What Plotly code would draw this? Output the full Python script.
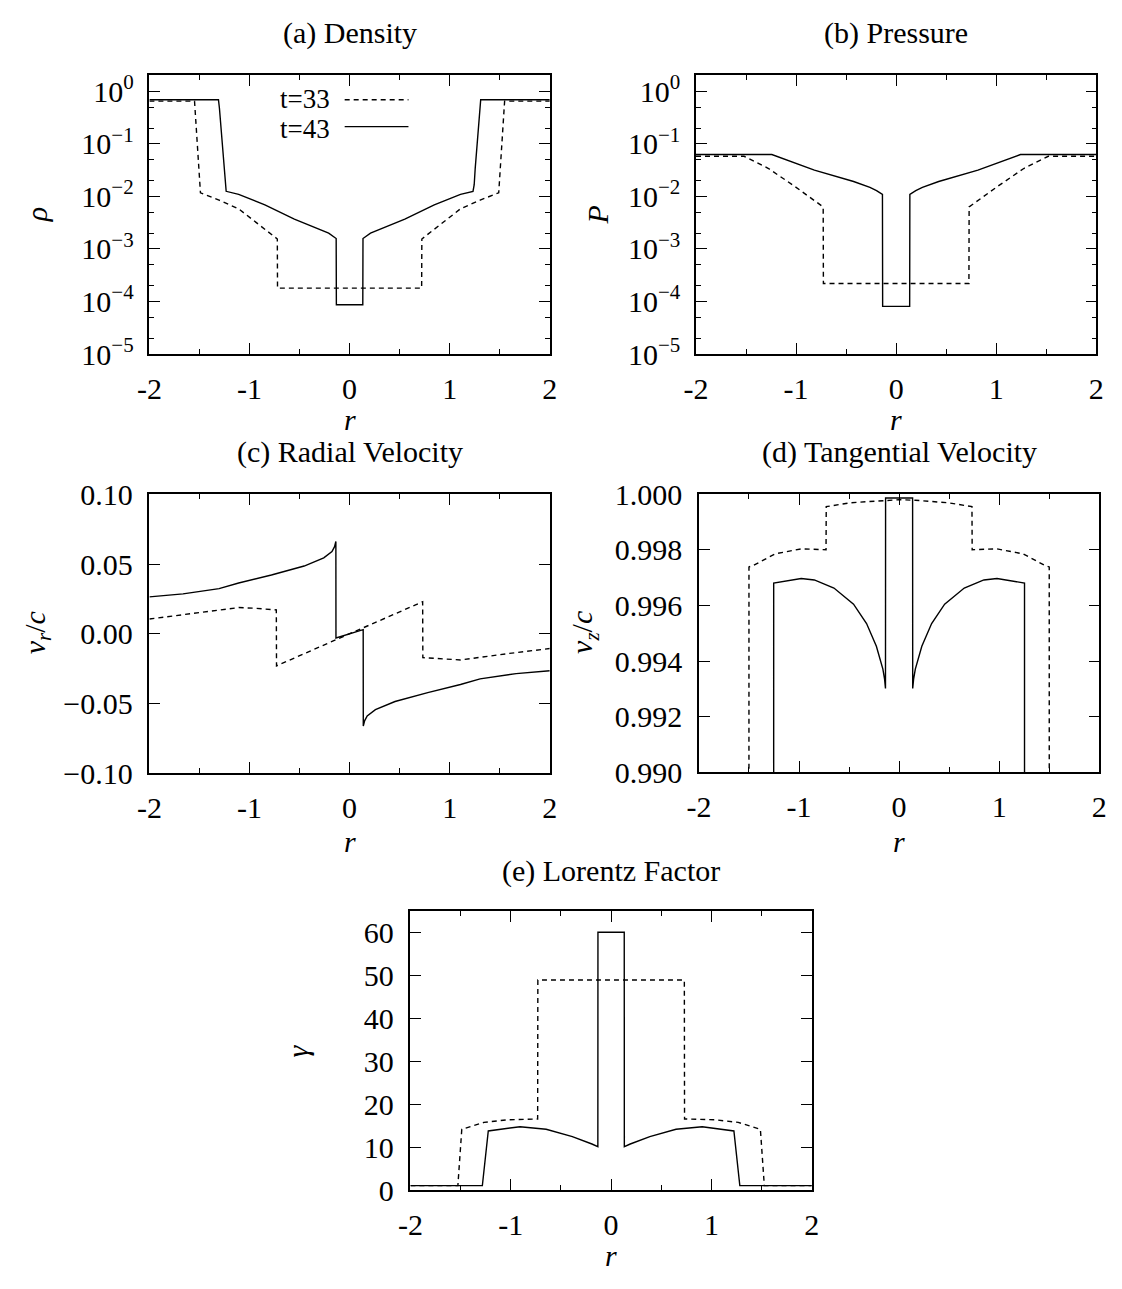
import plotly.graph_objects as go

# ---------------- data ----------------
# (a) density, t=33 (dashed) and t=43 (solid)
r_rho_33 = [-2.0, -1.549, -1.49, -1.304, -1.108, -0.912, -0.722, -0.720,
            0.720, 0.722, 0.912, 1.108, 1.304, 1.49, 1.549, 2.0]
rho_33 = [0.65, 0.65, 0.0117, 0.0085, 0.0058, 0.0030, 0.00155, 1.8e-4,
          1.8e-4, 0.00155, 0.0030, 0.0058, 0.0085, 0.0117, 0.65, 0.65]
r_rho_43 = [-2.0, -1.31, -1.30, -1.255, -1.245, -1.233, -1.108, -0.846, -0.552,
            -0.291, -0.209, -0.134, -0.132, 0.132, 0.134, 0.209, 0.291, 0.552,
            0.846, 1.108, 1.233, 1.245, 1.255, 1.30, 1.31, 2.0]
rho_43 = [0.69, 0.69, 0.47, 0.034, 0.0167, 0.0125, 0.0109, 0.0069, 0.0037,
          0.0023, 0.0020, 0.00158, 8.7e-5, 8.7e-5, 0.00158, 0.0020, 0.0023,
          0.0037, 0.0069, 0.0109, 0.0125, 0.0167, 0.034, 0.47, 0.69, 0.69]

# (b) pressure
r_p_33 = [-2.0, -1.52, -1.275, -1.013, -0.729, -0.727,
          0.727, 0.729, 1.013, 1.275, 1.52, 2.0]
p_33 = [0.058, 0.058, 0.0339, 0.0155, 0.0063, 2.2e-4,
        2.2e-4, 0.0063, 0.0155, 0.0339, 0.058, 0.058]
r_p_43 = [-2.0, -1.242, -0.817, -0.425, -0.262, -0.196, -0.137, -0.135,
          0.135, 0.137, 0.196, 0.262, 0.425, 0.817, 1.242, 2.0]
p_43 = [0.0625, 0.0625, 0.0316, 0.0192, 0.0148, 0.0129, 0.0109, 8.1e-5,
        8.1e-5, 0.0109, 0.0129, 0.0148, 0.0192, 0.0316, 0.0625, 0.0625]

# (c) radial velocity
r_vr_33 = [-2.0, -1.598, -1.108, -0.944, -0.732, -0.730,
           0.730, 0.732, 0.944, 1.108, 1.598, 2.0]
vr_33 = [0.0106, 0.0141, 0.0188, 0.0183, 0.0171, -0.023,
         0.023, -0.0171, -0.0183, -0.0188, -0.0141, -0.0106]
r_vr_43 = [-2.0, -1.664, -1.304, -1.108, -0.781, -0.454, -0.258, -0.176,
           -0.15, -0.137, -0.136, 0.136, 0.137, 0.15, 0.176, 0.258, 0.454,
           0.781, 1.108, 1.304, 1.664, 2.0]
vr_43 = [0.0265, 0.0286, 0.0324, 0.0364, 0.0422, 0.0486, 0.0545, 0.059,
         0.0625, 0.0662, -0.0030, 0.0030, -0.0662, -0.0625, -0.059, -0.0545,
         -0.0486, -0.0422, -0.0364, -0.0324, -0.0286, -0.0265]

# (d) tangential velocity
r_vz_33 = [-2.0, -1.53, -1.50, -1.452, -1.239, -0.978, -0.730, -0.728,
           -0.489, -0.162, 0.0, 0.162, 0.489, 0.728, 0.730, 0.978, 1.239,
           1.452, 1.50, 1.53, 2.0]
vz_33 = [0.0, 0.0, 0.99739, 0.99745, 0.99786, 0.99804, 0.99801, 0.99956,
         0.99970, 0.99979, 0.99981, 0.99979, 0.99970, 0.99956, 0.99801,
         0.99804, 0.99786, 0.99745, 0.99739, 0.0, 0.0]
r_vz_43 = [-2.0, -1.26, -1.253, -1.207, -0.978, -0.847, -0.651, -0.455,
           -0.325, -0.227, -0.162, -0.145, -0.136, -0.135, 0.135, 0.136,
           0.145, 0.162, 0.227, 0.325, 0.455, 0.651, 0.847, 0.978, 1.207,
           1.253, 1.26, 2.0]
vz_43 = [0.0, 0.0, 0.99681, 0.99684, 0.99697, 0.99692, 0.99663, 0.99605,
         0.99535, 0.99453, 0.99371, 0.99335, 0.99301, 0.99987, 0.99987,
         0.99301, 0.99335, 0.99371, 0.99453, 0.99535, 0.99605, 0.99663,
         0.99692, 0.99697, 0.99684, 0.99681, 0.0, 0.0]

# (e) Lorentz factor
r_g_33 = [-2.0, -1.527, -1.488, -1.267, -1.039, -0.732, -0.730,
          0.730, 0.732, 1.039, 1.267, 1.488, 1.527, 2.0]
g_33 = [1.06, 1.06, 14.2, 15.8, 16.4, 16.6, 49.0,
        49.0, 16.6, 16.4, 15.8, 14.2, 1.06, 1.06]
r_g_43 = [-2.0, -1.283, -1.224, -0.908, -0.647, -0.386, -0.191, -0.132,
          -0.131, 0.131, 0.132, 0.191, 0.386, 0.647, 0.908, 1.224, 1.283, 2.0]
g_43 = [1.06, 1.06, 13.8, 14.8, 14.2, 12.5, 10.76, 10.15,
        60.15, 60.15, 10.15, 10.76, 12.5, 14.2, 14.8, 13.8, 1.06, 1.06]

# tick labels
x_tickvals = [-2, -1, 0, 1, 2]
x_ticktext = ["-2", "-1", "0", "1", "2"]
x_minor = [-1.5, -0.5, 0.5, 1.5]
log_tickvals = [1e-5, 1e-4, 1e-3, 1e-2, 1e-1, 1e0]
log_ticktext = ["10<sup>\u22125</sup>", "10<sup>\u22124</sup>", "10<sup>\u22123</sup>",
                "10<sup>\u22122</sup>", "10<sup>\u22121</sup>", "10<sup>0</sup>"]
log_minor = [m * 10.0 ** e for e in range(-5, 1) for m in (2, 5)]
vr_tickvals = [-0.10, -0.05, 0.0, 0.05, 0.10]
vr_ticktext = ["\u22120.10", "\u22120.05", "0.00", "0.05", "0.10"]
vz_tickvals = [0.990, 0.992, 0.994, 0.996, 0.998, 1.000]
vz_ticktext = ["0.990", "0.992", "0.994", "0.996", "0.998", "1.000"]
g_tickvals = [0, 10, 20, 30, 40, 50, 60]
g_ticktext = ["0", "10", "20", "30", "40", "50", "60"]

# ---------------- layout helpers ----------------
W, H = 1122, 1289
FONT = "Liberation Serif"
FS = 30       # tick labels
FT = 30       # titles / axis labels
FL = 27       # legend


def xd(p0, p1):
    return [p0 / W, p1 / W]


def yd(p0, p1):
    return [1 - p1 / H, 1 - p0 / H]


def axis(domain, anchor, **kw):
    d = dict(domain=domain, anchor=anchor, showline=True, linecolor="black",
             linewidth=1.5, mirror="ticks", ticks="inside", ticklen=11,
             tickwidth=1.2, tickcolor="black", showgrid=False, zeroline=False,
             tickfont=dict(family=FONT, size=FS, color="black"))
    d.update(kw)
    return d


def minor(vals):
    return dict(tickmode="array", tickvals=vals, ticks="inside", ticklen=5,
                tickwidth=1.2, tickcolor="black", showgrid=False)


boxes = {
    "a": (139, 547, 61, 347),
    "b": (696, 1104, 61, 347),
    "c": (139, 547, 491, 777),
    "d": (699, 1107, 491, 776),
    "e": (405, 814, 919, 1205),
}

fig = go.Figure()

DASH = "5px,4px"
LW = 1.4
series = [
    ("x", "y", r_rho_33, rho_33, r_rho_43, rho_43),
    ("x2", "y2", r_p_33, p_33, r_p_43, p_43),
    ("x3", "y3", r_vr_33, vr_33, r_vr_43, vr_43),
    ("x4", "y4", r_vz_33, vz_33, r_vz_43, vz_43),
    ("x5", "y5", r_g_33, g_33, r_g_43, g_43),
]
for xa, ya, r33, v33, r43, v43 in series:
    fig.add_trace(go.Scatter(x=r33, y=v33, mode="lines", name="t=33",
                             line=dict(color="black", width=LW, dash=DASH),
                             xaxis=xa, yaxis=ya, showlegend=False))
    fig.add_trace(go.Scatter(x=r43, y=v43, mode="lines", name="t=43",
                             line=dict(color="black", width=LW),
                             xaxis=xa, yaxis=ya, showlegend=False))

layout = dict(width=W, height=H, margin=dict(l=0, r=0, t=0, b=0),
              paper_bgcolor="white", plot_bgcolor="white", showlegend=False,
              font=dict(family=FONT, size=FS, color="black"))

names = ["a", "b", "c", "d", "e"]
for i, k in enumerate(names):
    x0, x1, y0, y1 = boxes[k]
    sx = "" if i == 0 else str(i + 1)
    layout["xaxis" + sx] = axis(xd(x0, x1), "y" + sx, range=[-2, 2],
                                tickmode="array", tickvals=x_tickvals,
                                ticktext=x_ticktext, minor=minor(x_minor),
                                ticklabelstandoff=7)

layout["yaxis"] = axis(yd(*boxes["a"][2:]), "x", type="log", range=[-5, 0.301],
                       tickmode="array", tickvals=log_tickvals, ticktext=log_ticktext,
                       minor=minor(log_minor), ticklabelstandoff=8)
layout["yaxis2"] = axis(yd(*boxes["b"][2:]), "x2", type="log", range=[-5, 0.301],
                        tickmode="array", tickvals=log_tickvals, ticktext=log_ticktext,
                        minor=minor(log_minor), ticklabelstandoff=8)
layout["yaxis3"] = axis(yd(*boxes["c"][2:]), "x3", range=[-0.1, 0.1],
                        tickmode="array", tickvals=vr_tickvals, ticktext=vr_ticktext,
                        ticklabelstandoff=9)
layout["yaxis4"] = axis(yd(*boxes["d"][2:]), "x4", range=[0.990, 1.000],
                        tickmode="array", tickvals=vz_tickvals, ticktext=vz_ticktext,
                        ticklabelstandoff=9)
layout["yaxis5"] = axis(yd(*boxes["e"][2:]), "x5", range=[0, 65],
                        tickmode="array", tickvals=g_tickvals, ticktext=g_ticktext,
                        ticklabelstandoff=9)

ann = []


def text(x, y, s, size=FT, **kw):
    d = dict(x=x / W, y=1 - y / H, xref="paper", yref="paper", text=s,
             showarrow=False, font=dict(family=FONT, size=size, color="black"),
             xanchor="center", yanchor="middle")
    d.update(kw)
    ann.append(d)


titles = {"a": "(a) Density", "b": "(b) Pressure", "c": "(c) Radial Velocity",
          "d": "(d) Tangential Velocity", "e": "(e) Lorentz Factor"}
title_y = {"a": 17, "b": 17, "c": 447, "d": 447, "e": 877}
xlab_y = {"a": 414, "b": 414, "c": 847, "d": 847, "e": 1272}
for k in names:
    x0, x1, y0, y1 = boxes[k]
    text((x0 + x1) / 2, title_y[k], titles[k])
    text((x0 + x1) / 2, xlab_y[k], "<i>r</i>")

text(24, 204, "<i>\u03c1</i>", textangle=-90)
text(596, 204, "<i>P</i>", textangle=-90)
text(24, 633, "<i>v<sub>r</sub></i>/<i>c</i>", textangle=-90)
text(582, 633, "<i>v<sub>z</sub></i>/<i>c</i>", textangle=-90)
text(290, 1062, "<i>\u03b3</i>", textangle=-90)

# legend (text followed by line sample, as in the reference)
text(325, 85, "t=33", size=FL, xanchor="right")
text(325, 116, "t=43", size=FL, xanchor="right")
shapes = [
    dict(type="line", xref="paper", yref="paper", x0=338 / W, x1=403 / W,
         y0=1 - 86 / H, y1=1 - 86 / H, line=dict(color="black", width=LW, dash=DASH)),
    dict(type="line", xref="paper", yref="paper", x0=338 / W, x1=403 / W,
         y0=1 - 113.5 / H, y1=1 - 113.5 / H, line=dict(color="black", width=LW)),
]

layout["annotations"] = ann
layout["shapes"] = shapes
fig.update_layout(**layout)
fig.write_html("out.html")
